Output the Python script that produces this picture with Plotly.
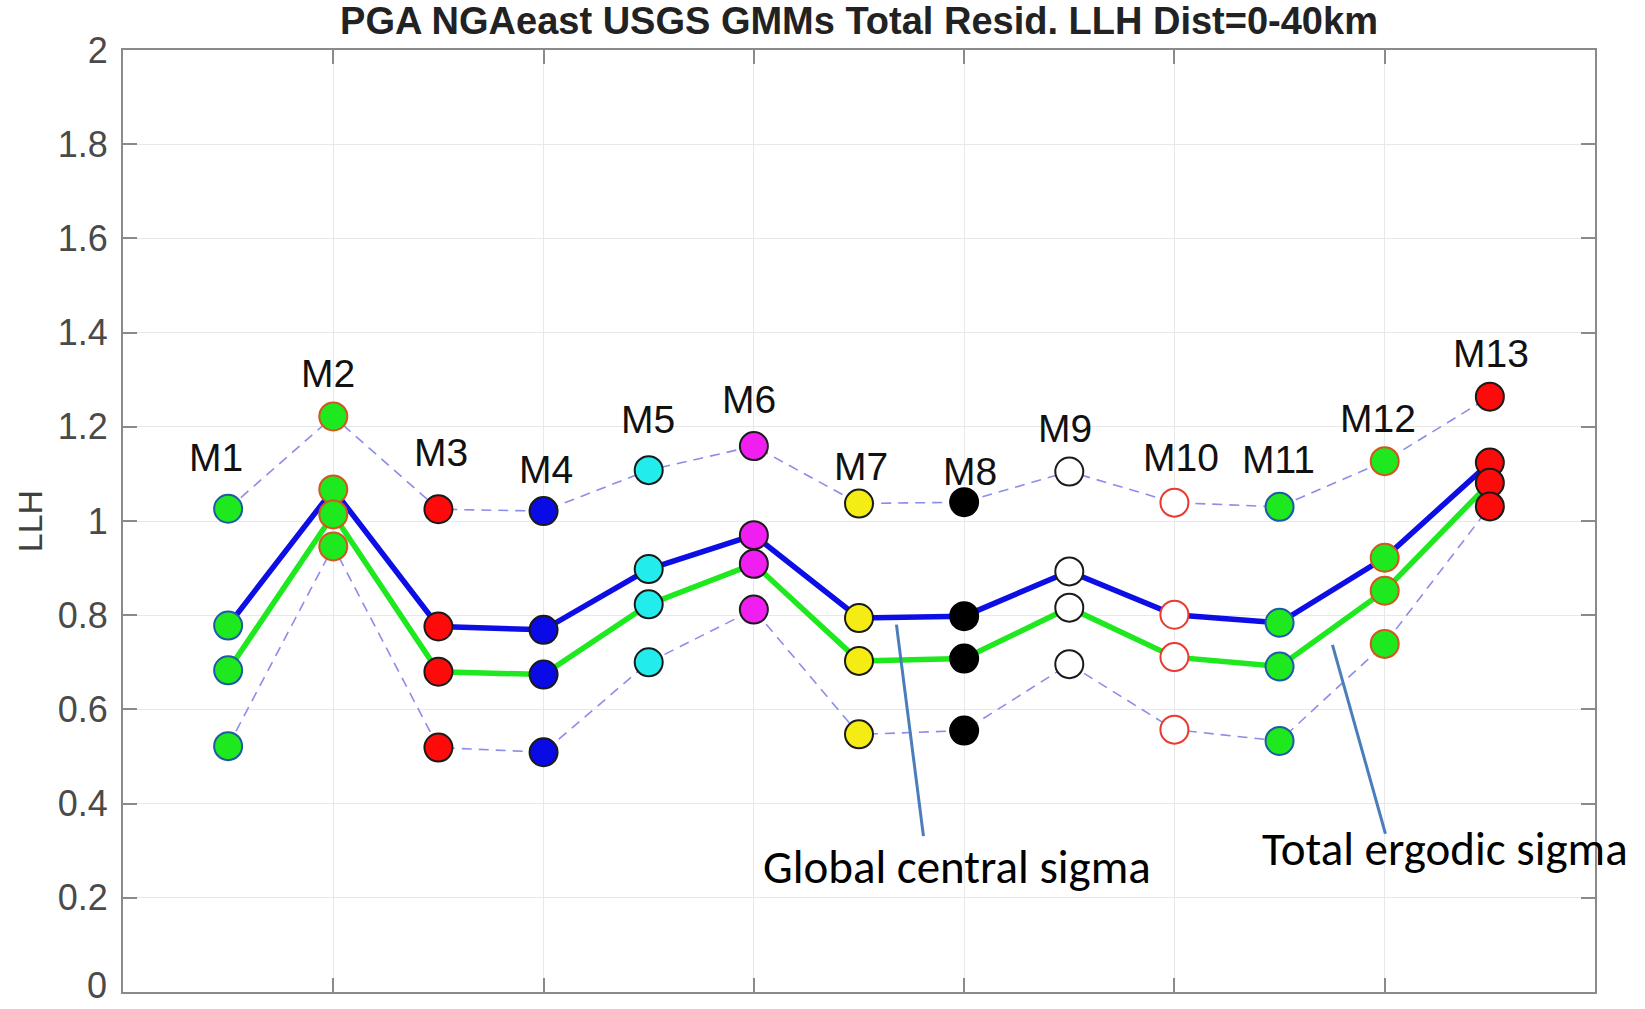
import plotly.graph_objects as go

# ---------------- data ----------------
models = ["M1", "M2", "M3", "M4", "M5", "M6", "M7", "M8", "M9", "M10", "M11", "M12", "M13"]
model_x = [1, 2, 3, 4, 5, 6, 7, 8, 9, 10, 11, 12, 13]
upper = [1.026, 1.222, 1.025, 1.021, 1.108, 1.159, 1.037, 1.040, 1.105, 1.039, 1.030, 1.127, 1.264]
central = [0.778, 1.067, 0.776, 0.769, 0.898, 0.970, 0.794, 0.798, 0.893, 0.801, 0.784, 0.922, 1.124]
ergodic = [0.683, 1.014, 0.680, 0.674, 0.823, 0.909, 0.703, 0.708, 0.816, 0.711, 0.691, 0.852, 1.081]
lower = [0.522, 0.946, 0.519, 0.509, 0.700, 0.812, 0.547, 0.555, 0.696, 0.557, 0.533, 0.739, 1.031]
y_ticks = [0, 0.2, 0.4, 0.6, 0.8, 1.0, 1.2, 1.4, 1.6, 1.8, 2.0]
y_ticktext = ["0", "0.2", "0.4", "0.6", "0.8", "1", "1.2", "1.4", "1.6", "1.8", "2"]

# ---------------- styles ----------------
fill_colors = ["#1ee81e", "#1ee81e", "#ff0a0a", "#0a0ae6", "#22ecec", "#f01ef0", "#f5ec14",
               "#000000", "#ffffff", "#ffffff", "#1ee81e", "#1ee81e", "#ff0a0a"]
edge_colors = ["#1f5aa6", "#d2561e", "#1a1a1a", "#1a1a1a", "#1a1a1a", "#1a1a1a", "#1a1a1a",
               "#000000", "#1a1a1a", "#e83a30", "#1f5aa6", "#d2561e", "#1a1a1a"]
label_dx = [-0.12, -0.05, 0.02, 0.02, -0.01, -0.05, 0.02, 0.06, -0.04, 0.06, -0.01, -0.06, 0.01]
label_dy = [0.108, 0.092, 0.12, 0.089, 0.108, 0.099, 0.079, 0.065, 0.091, 0.095, 0.10, 0.091, 0.092]
tick_font = dict(family="Liberation Sans, Arial, sans-serif", size=36, color="#4a4a4a")

fig = go.Figure()

dash_style = dict(color="rgba(120,120,230,0.85)", width=1.6, dash="10px,7px")
fig.add_trace(go.Scatter(x=model_x, y=upper, mode="lines", line=dash_style, hoverinfo="skip"))
fig.add_trace(go.Scatter(x=model_x, y=lower, mode="lines", line=dash_style, hoverinfo="skip"))
fig.add_trace(go.Scatter(x=model_x, y=central, mode="lines",
                         line=dict(color="#0d0de6", width=5.5), hoverinfo="skip"))
fig.add_trace(go.Scatter(x=model_x, y=ergodic, mode="lines",
                         line=dict(color="#1ee81e", width=5.5), hoverinfo="skip"))

for series in (upper, central, ergodic, lower):
    fig.add_trace(go.Scatter(
        x=model_x, y=series, mode="markers",
        marker=dict(size=28, color=fill_colors, line=dict(color=edge_colors, width=2)),
        hoverinfo="skip"))

annotations = []
for i, name in enumerate(models):
    annotations.append(dict(
        x=model_x[i] + label_dx[i], y=upper[i] + label_dy[i], xref="x", yref="y",
        text=name, showarrow=False, xanchor="center", yanchor="middle",
        font=dict(family="Liberation Sans, Arial, sans-serif", size=39, color="#111111")))

annotations.append(dict(
    x=-0.063, y=1.0, xref="paper", yref="y", text="LLH", textangle=-90, showarrow=False,
    xanchor="center", yanchor="middle",
    font=dict(family="Liberation Sans, Arial, sans-serif", size=34, color="#404040")))

# bottom "0" tick label drawn as an annotation so that it stays inside the page
annotations.append(dict(
    x=-0.0095, y=y_ticks[0], xref="paper", yref="y", text=y_ticktext[0], showarrow=False,
    xanchor="right", yanchor="bottom", yshift=-16, font=tick_font))

annotations.append(dict(
    x=7.93, y=0.265, xref="x", yref="y", text="Global central sigma", showarrow=False,
    xanchor="center", yanchor="middle",
    font=dict(family="Carlito, Lato, sans-serif", size=47, color="#000000")))
annotations.append(dict(
    x=12.576, y=0.304, xref="x", yref="y", text="Total ergodic sigma", showarrow=False,
    xanchor="center", yanchor="middle",
    font=dict(family="Carlito, Lato, sans-serif", size=47, color="#000000")))

shapes = [
    dict(type="line", xref="x", yref="y", x0=7.356, y0=0.780, x1=7.613, y1=0.331,
         line=dict(color="#4a7ebb", width=3)),
    dict(type="line", xref="x", yref="y", x0=11.503, y0=0.737, x1=12.007, y1=0.336,
         line=dict(color="#4a7ebb", width=3)),
]

fig.update_layout(
    width=1645, height=1009,
    margin=dict(l=123, r=50, t=50, b=17, autoexpand=False),
    paper_bgcolor="white", plot_bgcolor="white",
    showlegend=False,
    title=dict(text="<b>PGA NGAeast USGS GMMs Total Resid. LLH Dist=0-40km</b>",
               x=0.5, xref="paper", xanchor="center", y=1 - 21 / 1009, yanchor="middle",
               font=dict(family="Liberation Sans, Arial, sans-serif", size=38, color="#222222")),
    annotations=annotations,
    shapes=shapes,
)

fig.update_xaxes(range=[0, 14], tickvals=[2, 4, 6, 8, 10, 12], showticklabels=False,
                 showgrid=True, gridcolor="#e8e8e8", gridwidth=1, automargin=False,
                 showline=True, linecolor="#8a8a8a", linewidth=2, mirror="allticks",
                 ticks="inside", ticklen=14, tickcolor="#8a8a8a", tickwidth=1.5,
                 zeroline=False)
fig.update_yaxes(range=[0, 2], tickvals=y_ticks, ticktext=[""] + y_ticktext[1:],
                 showgrid=True, gridcolor="#e8e8e8", gridwidth=1, automargin=False,
                 showline=True, linecolor="#8a8a8a", linewidth=2, mirror="allticks",
                 ticks="inside", ticklen=14, tickcolor="#8a8a8a", tickwidth=1.5,
                 zeroline=False, ticklabelstandoff=6,
                 tickfont=tick_font)

fig.write_html("out.html")
